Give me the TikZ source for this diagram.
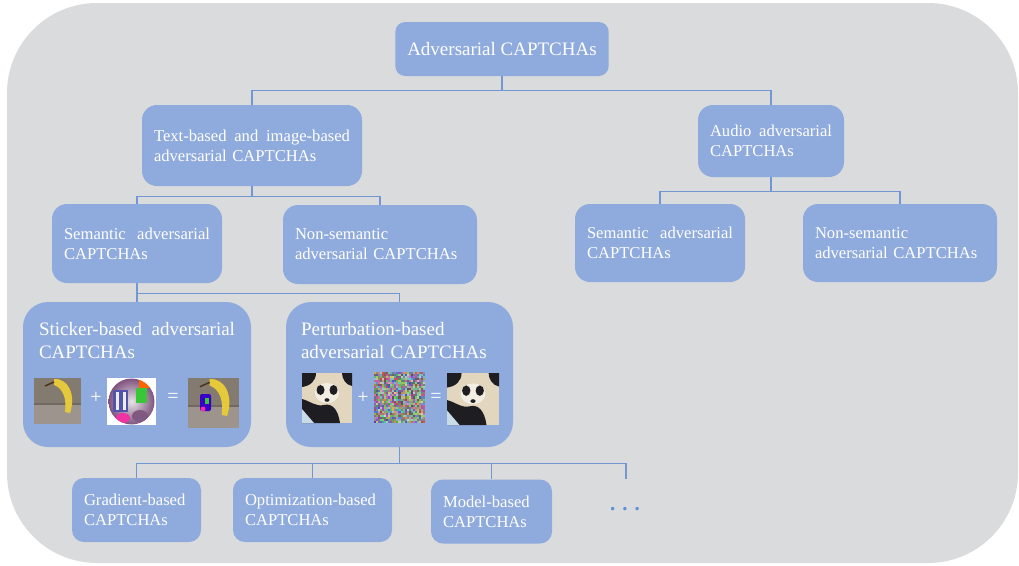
\documentclass[tikz,border=0pt]{standalone}
\usepackage{fontspec}
\setmainfont{Liberation Serif}
\usetikzlibrary{positioning}

\definecolor{bgray}{HTML}{DADBDD}
\definecolor{boxblue}{HTML}{8FAADC}
\definecolor{lineblue}{HTML}{7397D3}
\definecolor{dotblue}{HTML}{5B8FD6}
\definecolor{bananabg}{HTML}{847B70}
\definecolor{bananayellow}{HTML}{E5C93A}
\definecolor{pandafur}{HTML}{E2D6BE}
\definecolor{pandadark}{HTML}{1E1E22}
\definecolor{pandasky}{HTML}{C8DCE8}

\tikzset{
  box/.style={fill=boxblue, text=white, rounded corners=#1, align=left, inner xsep=12pt, inner ysep=0pt, font=\fontsize{16.6}{20}\selectfont},
  box/.default=10pt,
  bigtxt/.style={text=white, align=left, inner sep=0pt, font=\fontsize{19}{23}\selectfont},
  sign/.style={text=white, inner sep=0pt, font=\fontsize{20}{24}\selectfont},
  conn/.style={draw=lineblue, line width=1.1pt},
}

\newcommand{\bananapic}[3]{%
  \begin{scope}[shift={(#1,#2)}, scale=#3]
    \fill[bananabg] (0,0) rectangle (47,46);
    \fill[bananabg!80!white] (0,27) rectangle (47,46);
    \fill[bananabg!85!black] (0,25) rectangle (47,27);
    \fill[bananayellow] (20,1) .. controls (35,0) and (42,18) .. (36,35) -- (31,34) .. controls (33,21) and (29,10) .. (20,7) -- cycle;
    \draw[brown!40!black, line width=1.5pt] (11,8) -- (20,4);
  \end{scope}}

\newcommand{\pandapic}[3]{%
  \begin{scope}[shift={(#1,#2)}, scale=#3]
    \fill[pandafur] (0,0) rectangle (50,50);
    \fill[pandadark] (0,0) -- (14,0) .. controls (14,8) and (8,13) .. (0,14) -- cycle;
    \fill[pandadark] (40,0) -- (50,0) -- (50,13) .. controls (44,12) and (40,6) .. (40,0) -- cycle;
    \fill[white!55!pandafur] (25,20) ellipse (12 and 10);
    \fill[pandadark] (18.5,17) ellipse (4 and 5);
    \fill[pandadark] (31.5,17) ellipse (4 and 5);
    \fill[pandadark] (25,27) ellipse (2.5 and 1.8);
    \fill[pandadark] (0,26) .. controls (8,28) and (14,34) .. (22,32) .. controls (30,30) and (36,36) .. (38,50) -- (0,50) -- cycle;
    \fill[pandasky] (0,36) -- (12,50) -- (0,50) -- cycle;
  \end{scope}}

\begin{document}
\begin{tikzpicture}[x=1pt,y=-1pt]
\useasboundingbox (0,0) rectangle (1019,565);
\fill[bgray, rounded corners=90pt] (7,3) rectangle (1018,563);

\node[box=10pt, minimum width=212pt, minimum height=54pt, align=center, font=\fontsize{19}{23}\selectfont] (top) at (502,49) {Adversarial CAPTCHAs};

\node[box=15pt, text width=196pt, minimum height=81pt] (tib) at (252,145.5) {Text-based\hfill and\hfill image-based\\adversarial CAPTCHAs};
\node[box=15pt, text width=122pt, minimum height=72pt] (audio) at (771,141) {Audio\hfill adversarial\\CAPTCHAs};

\node[box=15pt, text width=146pt, minimum height=79pt] (sem) at (137,243.5) {Semantic\hfill adversarial\\CAPTCHAs};
\node[box=15pt, text width=170pt, minimum height=79pt] (nonsem) at (380,244.5) {Non-semantic\\adversarial CAPTCHAs};
\node[box=15pt, text width=146pt, minimum height=78pt] (asem) at (660,243) {Semantic\hfill adversarial\\CAPTCHAs};
\node[box=15pt, text width=170pt, minimum height=78pt] (anonsem) at (900,243) {Non-semantic\\adversarial CAPTCHAs};

\node[box=25pt, inner sep=0pt, minimum width=228pt, minimum height=145pt] (sticker) at (137,374.5) {};
\node[box=25pt, inner sep=0pt, minimum width=227pt, minimum height=145pt] (pert) at (399.5,374.5) {};
\node[bigtxt, anchor=north west, text width=196pt] (sttxt) at ([shift={(16,20)}]sticker.north west) {Sticker-based\hfill adversarial\\CAPTCHAs};
\node[bigtxt, anchor=north west, text width=196pt] (pttxt) at ([shift={(15,20)}]pert.north west) {Perturbation-based\\adversarial CAPTCHAs};

\node[box=12pt, text width=105pt, minimum height=64pt] (grad) at (136.5,510) {Gradient-based\\CAPTCHAs};
\node[box=12pt, text width=135pt, minimum height=64pt] (optim) at (312.5,510) {Optimization-based\\CAPTCHAs};
\node[box=12pt, text width=97pt, minimum height=64pt] (model) at (491.5,511.5) {Model-based\\CAPTCHAs};
\coordinate (more) at (626,479);
\node[text=dotblue, inner sep=0pt, font=\fontsize{21}{24}\selectfont\bfseries] (dots) at (625,509) {. . .};

\draw[conn] (top.south) -- ++(0,14) -| (tib.north);
\draw[conn] (top.south) -- ++(0,14) -| (audio.north);
\draw[conn] (tib.south) -- ++(0,10) -| (sem.north);
\draw[conn] (tib.south) -- ++(0,10) -| (nonsem.north);
\draw[conn] (audio.south) -- ++(0,14) -| (asem.north);
\draw[conn] (audio.south) -- ++(0,14) -| (anonsem.north);
\draw[conn] (sem.south) -- (sticker.north);
\draw[conn] (sem.south) -- ++(0,10) -| (pert.north);
\draw[conn] (pert.south) -- ++(0,16) -| (grad.north);
\draw[conn] (pert.south) -- ++(0,16) -| (optim.north);
\draw[conn] (pert.south) -- ++(0,16) -| (model.north);
\draw[conn] (pert.south) -- ++(0,16) -| (more);

\bananapic{34}{378}{1}
\node[sign] (plusA) at (96,398) {+};
\fill[white] (107,378) rectangle (156,425);
\shade[inner color=gray!20, outer color=violet!35!gray] (131.5,401.5) circle (23);
\begin{scope}
  \clip (131.5,401.5) circle (23);
  \fill[orange!80!red] (139,378) rectangle (154,388);
  \fill[blue!35!gray] (113,390) rectangle (128,412);
  \fill[gray!15] (116,392) rectangle (119,410);
  \fill[gray!15] (123,392) rectangle (126,410);
  \fill[green!55!gray] (136,388) rectangle (147,403);
  \fill[magenta!80] (123,418) ellipse (7 and 5);
  \fill[violet!30!gray] (140,416) ellipse (8 and 6);
\end{scope}
\node[sign] (eqA) at (173,398) {=};
\bananapic{188}{378}{1.085}
\fill[violet!45!blue, rounded corners=2pt] (200,394) rectangle (211,411);
\fill[green!55!gray] (205,398) rectangle (209,404);
\fill[magenta!80] (203,409) circle (2.5);

\pandapic{302}{373}{1}
\node[sign] (plusB) at (363,398) {+};
\pgfmathsetseed{7}
\foreach \i in {0,...,24} {
  \foreach \j in {0,...,24} {
    \pgfmathtruncatemacro\rval{random(70,215)}
    \pgfmathtruncatemacro\gval{random(70,215)}
    \pgfmathtruncatemacro\bval{random(70,215)}
    \definecolor{noisecol}{RGB}{\rval,\gval,\bval}
    \fill[noisecol] (374+2.04*\i,372+2.04*\j) rectangle ++(2.04,2.04);
  }
}
\node[sign] (eqB) at (436,398) {=};
\pandapic{447}{373}{1.04}

\end{tikzpicture}
\end{document}
